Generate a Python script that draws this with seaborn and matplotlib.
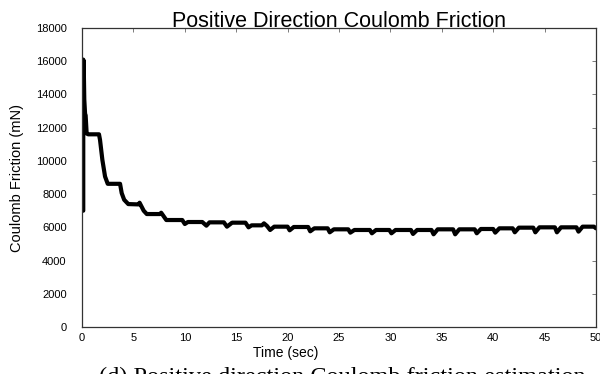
import matplotlib
matplotlib.use("Agg")
import matplotlib.pyplot as plt
import seaborn as sns
import pandas as pd

# Data (time in sec, Coulomb friction in mN)
time_sec = [0.12, 0.12, 0.14, 0.16, 0.22, 0.3, 0.35, 0.45, 0.6, 1.65,
            1.75, 1.98, 2.24, 2.5, 3.7, 3.86, 4.1, 4.5, 5.5, 5.6,
            6.0, 6.3, 7.6, 7.7, 8.2, 9.75, 10.0, 10.3, 11.7, 12.1,
            12.4, 13.8, 14.1, 14.6, 15.9, 16.2, 16.5, 17.5, 17.7, 18.0,
            18.3, 18.7, 20.0, 20.2, 20.6, 22.0, 22.2, 22.6, 23.9, 24.1,
            24.5, 25.9, 26.1, 26.5, 28.0, 28.2, 28.6, 29.9, 30.1, 30.5,
            32.0, 32.2, 32.6, 34.0, 34.2, 34.6, 36.1, 36.3, 36.7, 38.2,
            38.4, 38.8, 40.0, 40.2, 40.6, 41.9, 42.1, 42.5, 43.9, 44.1,
            44.5, 46.0, 46.2, 46.6, 48.1, 48.3, 48.7, 49.8, 50.0]
friction_mN = [7000, 16100, 14500, 16000, 13700, 12800, 12750, 11650, 11600, 11600,
               11270, 10060, 9060, 8620, 8620, 8060, 7660, 7400, 7380, 7480,
               7000, 6800, 6800, 6880, 6440, 6440, 6200, 6320, 6320, 6100,
               6300, 6300, 6040, 6280, 6280, 6000, 6120, 6120, 6240, 6080,
               5840, 6040, 6040, 5820, 6020, 6020, 5760, 5940, 5940, 5700,
               5880, 5880, 5680, 5840, 5840, 5640, 5840, 5840, 5640, 5840,
               5840, 5600, 5840, 5840, 5580, 5880, 5880, 5580, 5880, 5880,
               5640, 5900, 5900, 5680, 5940, 5940, 5700, 5980, 5980, 5700,
               6000, 6000, 5700, 6000, 6000, 5740, 6040, 6040, 5940]

x_ticks = [0, 5, 10, 15, 20, 25, 30, 35, 40, 45, 50]
y_ticks = [0, 2000, 4000, 6000, 8000, 10000, 12000, 14000, 16000, 18000]

sns.set_style("white")
plt.rcParams["font.family"] = ["Liberation Sans", "DejaVu Sans"]
plt.rcParams["text.color"] = "black"
plt.rcParams["axes.labelcolor"] = "black"

df = pd.DataFrame({"t": time_sec, "f": friction_mN})

fig = plt.figure(figsize=(6.0, 3.74), dpi=100)
ax = fig.add_axes([0.1367, 0.1257, 0.8566, 0.7994])

sns.lineplot(data=df, x="t", y="f", ax=ax, estimator=None, sort=False,
             color="black", linewidth=3.0)

ax.set_xlim(0, 50)
ax.set_ylim(0, 18000)
ax.set_xticks(x_ticks)
ax.set_yticks(y_ticks)
ax.set_xticklabels([str(v) for v in x_ticks], fontsize=8)
ax.set_yticklabels([str(v) for v in y_ticks], fontsize=8)
ax.tick_params(direction="in", length=3, width=0.6, top=True, right=True,
               color="#666666", labelcolor="black")
ax.tick_params(axis="y", pad=11)
ax.tick_params(axis="x", pad=4)
for s in ax.spines.values():
    s.set_color("#333333")
    s.set_linewidth(0.9)
    s.set_visible(True)

ax.set_xlabel("Time (sec)", fontsize=10)
ax.xaxis.set_label_coords(0.397, -0.062)
ax.set_ylabel("Coulomb Friction (mN)", fontsize=10.5)
ax.yaxis.set_label_coords(-0.113, 0.5)
ax.set_title("Positive Direction Coulomb Friction", fontsize=15.5, pad=1,
             color="black")

fig.text(0.57, 0.018, "(d) Positive direction Coulomb friction estimation",
         ha="center", va="top", fontsize=17.5, family=["Liberation Serif"])

fig.savefig("out.png", dpi=100)
